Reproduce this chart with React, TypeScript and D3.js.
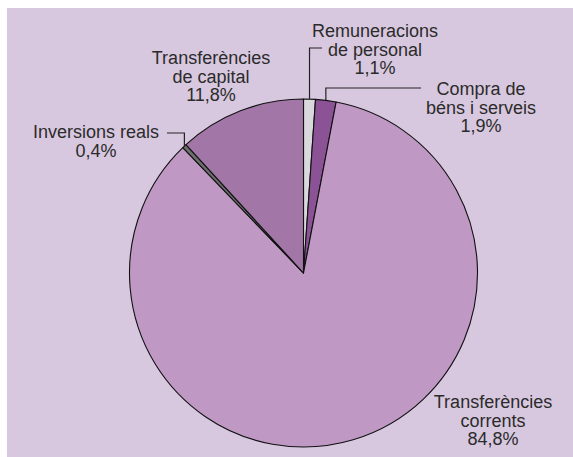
import React, { useEffect, useRef } from "react";
import * as d3 from "d3";

// shares of spending, clockwise from 12 o'clock
const categories = [
  "Remuneracions de personal",
  "Compra de béns i serveis",
  "Transferències corrents",
  "Inversions reals",
  "Transferències de capital",
];
const values = [1.1, 1.9, 84.8, 0.4, 11.8];
const labelLines = [
  ["Remuneracions", "de personal", "1,1%"],
  ["Compra de", "béns i serveis", "1,9%"],
  ["Transferències", "corrents", "84,8%"],
  ["Inversions reals", "0,4%"],
  ["Transferències", "de capital", "11,8%"],
];
const colors = ["#d9d8dc", "#8b5295", "#bf99c4", "#6c6d6d", "#a277a8"];

const W = 573;
const H = 457;
const cx = 303.5;
const cy = 273;
const R = 174;
const lineH = 18.5;

// label anchor (center x, first baseline) and leader elbow
const labelPos = [
  { x: 375, y: 37, elbowY: 48, endX: 322 },
  { x: 481, y: 95, elbowY: 88, endX: 421 },
  { x: 493, y: 408 },
  { x: 96, y: 138, elbowY: 133, endX: 167 },
  { x: 211, y: 64 },
];

export default function App() {
  const ref = useRef<SVGSVGElement>(null);

  useEffect(() => {
    document.body.style.margin = "0";
    const svg = d3.select(ref.current);
    svg.selectAll("*").remove();

    svg.append("rect")
      .attr("x", 7).attr("y", 8)
      .attr("width", W - 7).attr("height", H - 8)
      .attr("fill", "#d8c8df");

    const pie = d3.pie<number>().sort(null).startAngle(0).endAngle(2 * Math.PI);
    const arcs = pie(values);
    const arc = d3.arc<d3.PieArcDatum<number>>().innerRadius(0).outerRadius(R);

    const g = svg.append("g").attr("transform", `translate(${cx},${cy})`);
    g.selectAll("path")
      .data(arcs)
      .join("path")
      .attr("d", arc)
      .attr("fill", (d, i) => colors[i])
      .attr("stroke", "#111")
      .attr("stroke-width", 1.1)
      .attr("stroke-linejoin", "round");

    // leader lines
    arcs.forEach((a, i) => {
      const p = labelPos[i];
      if (p.elbowY === undefined) return;
      const mid = (a.startAngle + a.endAngle) / 2;
      const px = cx + R * Math.sin(mid);
      const py = cy - R * Math.cos(mid);
      svg.append("path")
        .attr("d", `M${px},${py}V${p.elbowY}H${p.endX}`)
        .attr("fill", "none")
        .attr("stroke", "#222")
        .attr("stroke-width", 1.2);
    });

    labelLines.forEach((lines, i) => {
      const p = labelPos[i];
      const t = svg.append("text")
        .attr("text-anchor", "middle")
        .attr("font-family", "'Liberation Sans', Arial, Helvetica, sans-serif")
        .attr("font-size", 18)
        .attr("fill", "#2b2b2b");
      lines.forEach((ln, j) => {
        t.append("tspan").attr("x", p.x).attr("y", p.y + j * lineH).text(ln);
      });
    });
  }, []);

  return (
    <svg ref={ref} width={W} height={H} style={{ display: "block" }}>
      <title>{categories.join(", ")}</title>
    </svg>
  );
}
